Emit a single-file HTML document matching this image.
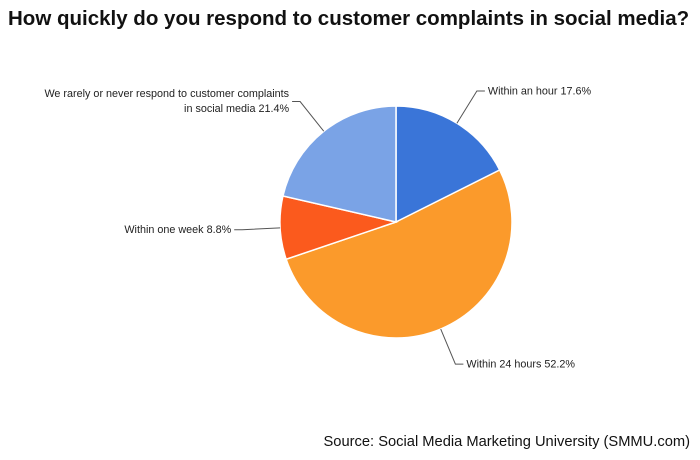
<!DOCTYPE html>
<html><head><meta charset="utf-8"><style>
body{margin:0;background:#fff;}
svg{display:block;font-family:"Liberation Sans",Arial,sans-serif;}
</style></head><body>
<svg width="700" height="460" viewBox="0 0 700 460">
<text x="8" y="25" font-size="20.5" font-weight="bold" fill="#111">How quickly do you respond to customer complaints in social media?</text>
<g id="slices"></g>
<g id="labels" font-size="10.8" fill="#222"></g>
<text x="690" y="446" text-anchor="end" font-size="14.7" fill="#111">Source: Social Media Marketing University (SMMU.com)</text>
</svg>
<script>
const categories=["Within an hour","Within 24 hours","Within one week","We rarely or never respond to customer complaints in social media"];
const values=[17.6,52.2,8.8,21.4];
const colors=["#3a75d8","#fb9a2b","#fb5a1d","#7aa3e6"];
const NS="http://www.w3.org/2000/svg";
const cx=396,cy=222,r=116;
const total=values.reduce((a,b)=>a+b,0);
const sg=document.getElementById('slices'),lg=document.getElementById('labels');
function pt(a,rr){return [cx+rr*Math.sin(a),cy-rr*Math.cos(a)];}
let acc=0;
values.forEach((v,i)=>{
  const a0=acc/total*2*Math.PI;acc+=v;const a1=acc/total*2*Math.PI;
  const p0=pt(a0,r),p1=pt(a1,r);
  const large=(a1-a0)>Math.PI?1:0;
  const p=document.createElementNS(NS,'path');
  p.setAttribute('d',`M${cx},${cy}L${p0[0]},${p0[1]}A${r},${r} 0 ${large} 1 ${p1[0]},${p1[1]}Z`);
  p.setAttribute('fill',colors[i]);p.setAttribute('stroke','#fff');p.setAttribute('stroke-width','1.5');
  
  
  sg.appendChild(p);
  const am=(a0+a1)/2;
  const e=pt(am,r);
  const s=Math.sin(am)>=0?1:-1;
  const o=pt(am,r+38);
  const hx=o[0]+s*8;
  const pl=document.createElementNS(NS,'polyline');
  pl.setAttribute('points',`${e[0]},${e[1]} ${o[0]},${o[1]} ${hx},${o[1]}`);
  pl.setAttribute('fill','none');pl.setAttribute('stroke','#555');pl.setAttribute('stroke-width','1');
  
  
  lg.appendChild(pl);
  const t=document.createElementNS(NS,'text');
  t.setAttribute('x',hx+s*3);t.setAttribute('text-anchor',s>0?'start':'end');
  
  
  const label=categories[i]+' '+v+'%';
  if(label.length>50){
    const w=label.split(' ');const cut=8;
    const l1=w.slice(0,cut).join(' '),l2=w.slice(cut).join(' ');
    [l1,l2].forEach((s2,k)=>{const ts=document.createElementNS(NS,'tspan');ts.setAttribute('x',hx+s*3);ts.setAttribute('y',o[1]+3.5-8+k*15);ts.textContent=s2;t.appendChild(ts);});
  } else {t.setAttribute('y',o[1]+3.5);t.textContent=label;}
  lg.appendChild(t);
});
</script>
</body></html>
